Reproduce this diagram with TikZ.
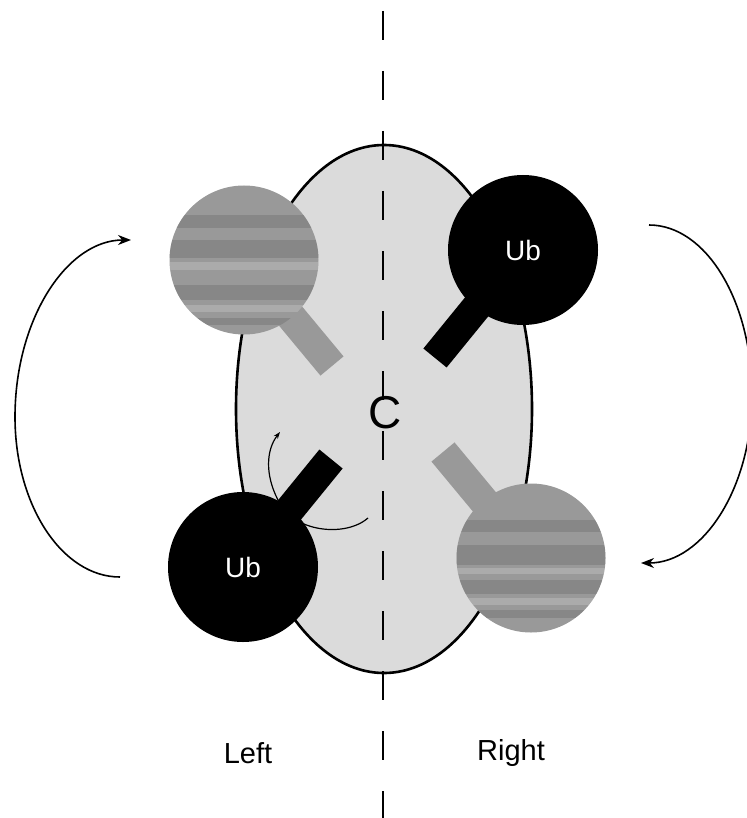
\documentclass[tikz,border=0pt]{standalone}
\usepackage{fontspec}
\setmainfont{Liberation Sans}
\usetikzlibrary{shapes.geometric,arrows.meta}
\tikzset{
  cell/.style={ellipse, draw=black, line width=2.6pt, fill=black!14, minimum width=296pt, minimum height=528pt, inner sep=0pt},
  ubball/.style={circle, fill=black, minimum size=150pt, inner sep=0pt, text=white, font=\fontsize{28}{28}\selectfont},
  grayball/.style={circle, fill=black!40, minimum size=149pt, inner sep=0pt},
  blackstick/.style={line width=30pt, black},
  graystick/.style={line width=30pt, black!40},
  midline/.style={line width=2.6pt, dash pattern=on 29pt off 31pt},
  bigarrow/.style={line width=1.6pt, -{Stealth[length=13pt,width=10pt]}},
  smallarrow/.style={line width=1.2pt, -{Stealth[length=7pt,width=5pt]}},
  label/.style={font=\fontsize{29}{29}\selectfont},
  band/.style={fill=black!60, opacity=0.35},
  lightband/.style={fill=white, opacity=0.18}
}
\begin{document}
\begin{tikzpicture}[x=1pt,y=-1pt]
\useasboundingbox (0,0) rectangle (746,818);
% cell body
\node[cell] (cell) at (384,409) {};
% dividing line
\coordinate (lineTop) at (383,11);
\coordinate (lineBot) at (383,818);
\draw[midline] (lineTop) -- (lineBot);
% small rotation arrow (behind the lower-left Ub)
\coordinate (sa) at (368,518);
\coordinate (sb) at (280,432);
\draw[smallarrow] (sa) .. controls (345,538) and (292,532) .. (278,500)
                       .. controls (265,475) and (266,450) .. (sb);
% sticks
\coordinate (ulEnd) at (332,366);
\coordinate (urEnd) at (435,358);
\coordinate (llEnd) at (331,459);
\coordinate (lrEnd) at (443,452);
\draw[graystick] (244,260) -- (ulEnd);
\draw[blackstick] (523,250) -- (urEnd);
\draw[blackstick] (243,567) -- (llEnd);
\draw[graystick] (531,558) -- (lrEnd);
% gray balls with streaks
\node[grayball] (ul) at (244,260) {};
\begin{scope}
  \clip (ul) circle (74.5pt);
  \fill[band] (160,215) rectangle (330,228);
  \fill[band] (160,240) rectangle (330,258);
  \fill[lightband] (160,262) rectangle (330,270);
  \fill[band] (160,285) rectangle (330,300);
  \fill[lightband] (160,305) rectangle (330,312);
  \fill[band] (160,318) rectangle (330,325);
\end{scope}
\node[grayball] (lr) at (531,558) {};
\begin{scope}
  \clip (lr) circle (74.5pt);
  \fill[band] (450,520) rectangle (620,532);
  \fill[band] (450,545) rectangle (620,565);
  \fill[lightband] (450,568) rectangle (620,574);
  \fill[band] (450,580) rectangle (620,594);
  \fill[lightband] (450,598) rectangle (620,605);
  \fill[band] (450,610) rectangle (620,618);
\end{scope}
% black Ub balls
\node[ubball] (ur) at (523,250) {Ub};
\node[ubball] (ll) at (243,567) {Ub};
% centre label
\node[font=\fontsize{46}{46}\selectfont, inner sep=0pt] (C) at (385,413) {C};
% big arrows
\coordinate (la0) at (120,577);
\coordinate (la1) at (15,417);
\coordinate (la2) at (131,240);
\draw[bigarrow] (la0) .. controls (62,577) and (15,505) .. (la1)
                      .. controls (15,319) and (67,240) .. (la2);
\coordinate (ra0) at (649,225);
\coordinate (ra1) at (752,395);
\coordinate (ra2) at (641,563);
\draw[bigarrow] (ra0) .. controls (706,225) and (752,301) .. (ra1)
                      .. controls (752,488) and (703,563) .. (ra2);
% side labels
\node[label] (left) at (248,753) {Left};
\node[label] (right) at (511,753) {Right};
\end{tikzpicture}
\end{document}
